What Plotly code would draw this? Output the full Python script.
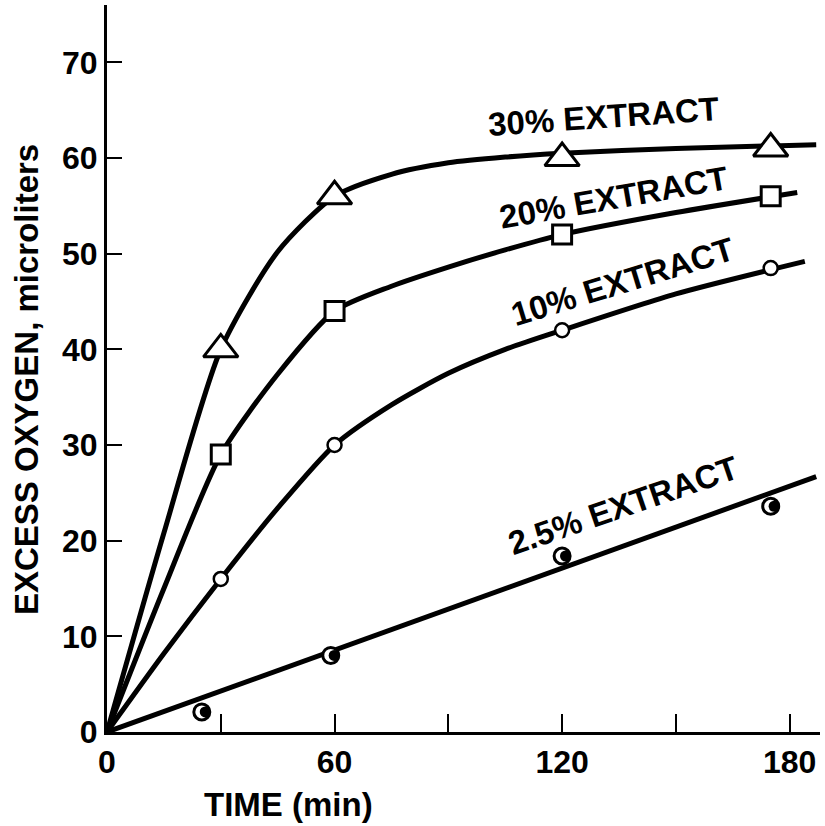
import plotly.graph_objects as go

# measured points
time_30 = [30, 60, 120, 175]
oxy_30 = [40, 56, 60, 61]
time_20 = [30, 60, 120, 175]
oxy_20 = [29, 44, 52, 56]
time_10 = [30, 60, 120, 175]
oxy_10 = [16, 30, 42, 48.5]
time_25 = [25, 59, 120, 175]
oxy_25 = [2.1, 8.0, 18.4, 23.6]

# hand-drawn curves, values
curve30_x = [0, 15, 30, 45, 60, 75, 90, 105, 120, 150, 187]
curve30_y = [0, 20.8, 40, 50.2, 56, 58.3, 59.5, 60.1, 60.5, 61.0, 61.4]
curve20_x = [0, 15, 30, 45, 60, 75, 90, 105, 120, 150, 182]
curve20_y = [0, 15, 29, 37.4, 44, 46.6, 48.6, 50.4, 52, 54.3, 56.4]
curve10_x = [0, 15, 30, 45, 60, 75, 90, 105, 120, 150, 184]
curve10_y = [0, 8.2, 16, 23.4, 30, 34.2, 37.5, 40.0, 42, 45.8, 49.2]
curve25_x = [0, 187]
curve25_y = [0, 26.7]

labels = ["30% EXTRACT", "20% EXTRACT", "10% EXTRACT", "2.5% EXTRACT"]
label_x = [131, 133.5, 136, 136]
label_y = [64.3, 55.9, 47.1, 23.7]
label_angle = [-4, -10, -17, -19]

x_ticks = [0, 30, 60, 90, 120, 150, 180]
x_ticktext = ["0", "", "60", "", "120", "", "180"]
y_ticks = [0, 10, 20, 30, 40, 50, 60, 70]

FONT = "Liberation Sans"
fig = go.Figure()

for cx, cy in [(curve30_x, curve30_y), (curve20_x, curve20_y),
               (curve10_x, curve10_y), (curve25_x, curve25_y)]:
    fig.add_trace(go.Scatter(x=cx, y=cy, mode="lines",
                             line=dict(color="black", width=5, shape="spline", smoothing=0.7),
                             hoverinfo="skip", showlegend=False))

fig.add_trace(go.Scatter(x=time_30, y=oxy_30, mode="markers",
                         marker=dict(symbol="triangle-up", size=30, color="white",
                                     line=dict(color="black", width=3)),
                         showlegend=False))
fig.add_trace(go.Scatter(x=time_20, y=oxy_20, mode="markers",
                         marker=dict(symbol="square", size=19, color="white",
                                     line=dict(color="black", width=3)),
                         showlegend=False))
fig.add_trace(go.Scatter(x=time_10, y=oxy_10, mode="markers",
                         marker=dict(symbol="circle", size=14, color="white",
                                     line=dict(color="black", width=2.5)),
                         showlegend=False))
fig.add_trace(go.Scatter(x=time_25, y=oxy_25, mode="markers",
                         marker=dict(symbol="circle", size=16, color="white",
                                     line=dict(color="black", width=3)),
                         showlegend=False))
fig.add_trace(go.Scatter(x=[t + 0.9 for t in time_25], y=oxy_25, mode="markers",
                         marker=dict(symbol="circle", size=11, color="black",
                                     line=dict(width=0)),
                         showlegend=False))

for t, lx, ly, a in zip(labels, label_x, label_y, label_angle):
    fig.add_annotation(x=lx, y=ly, text=t, showarrow=False, textangle=a,
                       font=dict(family=FONT, size=33, color="black", weight="bold"),
                       xanchor="center", yanchor="middle")

# axis titles placed where the original draws them
fig.add_annotation(x=47.8, xref="x", y=-0.1, yref="paper", text="TIME (min)",
                   showarrow=False, xanchor="center", yanchor="middle",
                   font=dict(family=FONT, size=33, color="black", weight="bold"))
fig.add_annotation(x=-0.112, xref="paper", y=36.8, yref="y", text="EXCESS OXYGEN, microliters",
                   showarrow=False, textangle=-90, xanchor="center", yanchor="middle",
                   font=dict(family=FONT, size=33, color="black", weight="bold"))

fig.update_layout(
    width=825, height=826,
    margin=dict(l=107, r=5, t=5, b=94),
    plot_bgcolor="white", paper_bgcolor="white",
    font=dict(family=FONT, color="black"),
)
fig.update_xaxes(range=[0, 188], showline=True, linecolor="black", linewidth=3,
                 showgrid=False, zeroline=False,
                 tickmode="array", tickvals=x_ticks, ticktext=x_ticktext,
                 ticks="inside", ticklen=18, tickwidth=2, tickcolor="black",
                 tickfont=dict(family=FONT, size=32, weight="bold"))
fig.update_yaxes(range=[0, 76], showline=True, linecolor="black", linewidth=3,
                 showgrid=False, zeroline=False,
                 tickmode="array", tickvals=y_ticks,
                 ticks="inside", ticklen=15, tickwidth=2, tickcolor="black",
                 tickfont=dict(family=FONT, size=32, weight="bold"))

fig.write_html("out.html")
